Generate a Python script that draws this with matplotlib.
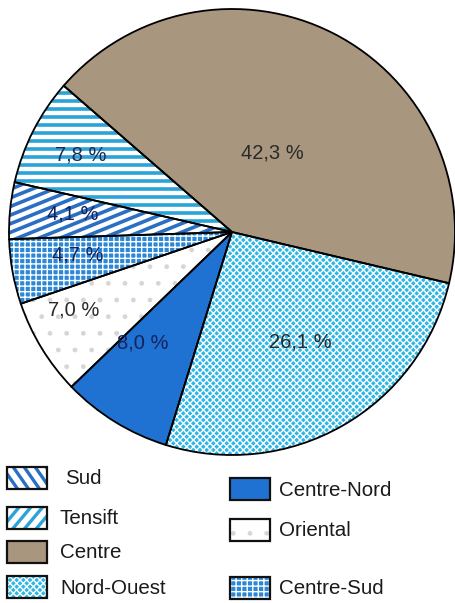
import numpy as np
import matplotlib
matplotlib.use('Agg')
import matplotlib.pyplot as plt
from matplotlib.patches import Rectangle
from matplotlib.lines import Line2D

plt.rcParams['font.family'] = ['Liberation Sans', 'DejaVu Sans']

# part de chaque région, dans le sens des aiguilles d'une montre
regions = ['Centre', 'Nord-Ouest', 'Centre-Nord', 'Oriental', 'Centre-Sud', 'Sud', 'Tensift']
parts = [42.3, 26.1, 8.0, 7.0, 4.7, 4.1, 7.8]
labels = ['42,3 %', '26,1 %', '8,0 %', '7,0 %', '4,7 %', '4,1 %', '7,8 %']

brown = '#a8967f'
cyan = '#2db6e6'
blue = '#1f72d2'
faces = {'Centre': brown, 'Nord-Ouest': cyan, 'Centre-Nord': blue, 'Oriental': 'white',
         'Centre-Sud': '#2a88d6', 'Sud': 'white', 'Tensift': 'white'}
# motif : (hachure, couleur de la hachure)
motifs = {'Nord-Ouest': ('xxxxx', 'white'), 'Centre-Sud': ('+++', 'white'),
          'Oriental': ('.', '#d6d6d6')}
# rayures : (angle, couleur)
rayures = {'Sud': (22, '#2b6fc4'), 'Tensift': (0, '#2aa4d8')}

# position des étiquettes : fraction du rayon, décalage angulaire
lab_r = [0.40, 0.58, 0.64, 0.79, 0.70, 0.72, 0.76]
lab_da = [0, 2, -7, -5, -2, -1, 0]
lab_col = ['#2a2a2a', '#2a2a2a', '#14235e', '#2a2a2a', '#14235e', '#14235e', '#1b2a55']


def stripes(ax, clip, angle, gap, color, lw, cx, cy, ext, yflip=1):
    a = np.radians(angle)
    d = np.array([np.cos(a), yflip * np.sin(a)])
    n = np.array([-d[1], d[0]])
    for off in np.arange(-ext, ext, gap):
        p0 = np.array([cx, cy]) + off * n - ext * d
        p1 = np.array([cx, cy]) + off * n + ext * d
        ln = Line2D([p0[0], p1[0]], [p0[1], p1[1]], color=color, lw=lw, solid_capstyle='butt')
        ax.add_line(ln)
        ln.set_clip_path(clip)


fig = plt.figure(figsize=(4.55, 6.03), dpi=100)
ax = fig.add_axes([9 / 455, 148 / 603, 446 / 455, 446 / 603])

wedges, _ = ax.pie(parts, colors=[faces[r] for r in regions], startangle=139,
                   counterclock=False, wedgeprops=dict(linewidth=0))
for w, r in zip(wedges, regions):
    if r in motifs:
        w.set_hatch(motifs[r][0])
        w.set_edgecolor(motifs[r][1])
    if r in rayures:
        stripes(ax, w, rayures[r][0], 8 / 223, rayures[r][1], 2.6, 0, 0, 1.1)

# contours noirs
outl, _ = ax.pie(parts, startangle=139, counterclock=False,
                 wedgeprops=dict(fill=False, edgecolor='black', linewidth=1.3))
for w in outl:
    w.set_zorder(5)
    w.set_clip_on(False)

for w, lab, rr, da, c in zip(wedges, labels, lab_r, lab_da, lab_col):
    mid = np.radians((w.theta1 + w.theta2) / 2 + da)
    ax.text(rr * np.cos(mid), rr * np.sin(mid), lab, ha='center', va='center',
            fontsize=14.5, color=c, zorder=6)

ax.set_xlim(-1, 1)
ax.set_ylim(-1, 1)
ax.axis('off')

# légende en pixels
lg = fig.add_axes([0, 0, 1, 1], zorder=-1)
lg.set_xlim(0, 455)
lg.set_ylim(603, 0)
lg.axis('off')

leg_left = ['Sud', 'Tensift', 'Centre', 'Nord-Ouest']
leg_left_y = [478, 518, 552, 587]
leg_right = ['Centre-Nord', 'Oriental', 'Centre-Sud']
leg_right_y = [489, 530, 588]
leg_rayures = {'Sud': (-55, '#2b6fc4'), 'Tensift': (50, '#2aa4d8')}

def legend_box(x, y, r, tx):
    box = Rectangle((x, y - 11), 40, 22, facecolor=faces[r], linewidth=0)
    lg.add_patch(box)
    if r in motifs:
        box.set_hatch(motifs[r][0])
        box.set_edgecolor(motifs[r][1])
    if r in leg_rayures:
        stripes(lg, box, leg_rayures[r][0], 9, leg_rayures[r][1], 2.4, x + 20, y, 40, yflip=-1)
    lg.add_patch(Rectangle((x, y - 11), 40, 22, fill=False, edgecolor='#111111',
                           linewidth=1.6, zorder=5))
    lg.text(tx, y + 1, r, ha='left', va='center', fontsize=14.8, color='#1a1a1a')

for r, y in zip(leg_left, leg_left_y):
    legend_box(7, y, r, 65 if r == 'Sud' else 60)
for r, y in zip(leg_right, leg_right_y):
    legend_box(230, y, r, 279)

fig.savefig('out.png', dpi=100)
